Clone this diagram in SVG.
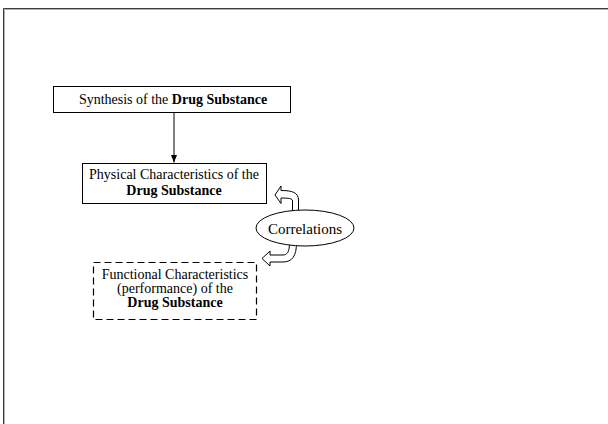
<svg xmlns="http://www.w3.org/2000/svg" width="608" height="424" viewBox="0 0 608 424">
  <style>
    .box { fill: #ffffff; stroke: #000000; stroke-width: 1; }
    .dash { stroke-dasharray: 7 4; stroke-width: 1.2; }
    .lbl { font-family: "Liberation Serif", "Times New Roman", serif; font-size: 14px; fill: #000000; text-anchor: middle; }
    .b { font-weight: bold; }
    .turn { fill: #ffffff; stroke: #000000; stroke-width: 1; stroke-linejoin: miter; }
  </style>
  <defs>
    <marker id="head" viewBox="0 0 8 8" refX="8" refY="4" markerWidth="8" markerHeight="8" markerUnits="userSpaceOnUse" orient="auto">
      <path d="M0,0.8 L8,4 L0,7.2 Z" fill="#000000"/>
    </marker>
  </defs>

  <rect width="608" height="424" fill="#ffffff"/>
  <!-- slide frame -->
  <g id="frame" fill="none">
    <path d="M3.5,424 V8.5 H608" stroke="#3c3c3c" stroke-width="1"/>
    <path d="M4.5,424 V9.5 H608" stroke="#b0b0b0" stroke-width="1"/>
  </g>

  <!-- connectors -->
  <g id="connectors">
    <line x1="174" y1="112.5" x2="174" y2="162.5" stroke="#000000" stroke-width="1" marker-end="url(#head)"/>
    <!-- U-turn arrow from Correlations up to the physical characteristics -->
    <path class="turn" d="M275,195 L281,186 L281,190.5 C292,190.5 298.5,192.5 298.5,200 L298.5,213 L292.5,213 L292.5,201 C292.5,198.5 289,198 281,198 L281,203.5 Z"/>
    <!-- U-turn arrow from Correlations down to the functional characteristics -->
    <path class="turn" d="M262,258.5 L270,251 L270,255 L283,255 C287,255 289.5,252 289.5,243 L296.5,243 C296.5,256 292,262 283,262 L270,262 L270,266 Z"/>
  </g>

  <g id="synthesis">
    <rect class="box" x="53.5" y="86.5" width="237" height="26"/>
    <text class="lbl" x="173" y="103.5">Synthesis of the <tspan class="b">Drug Substance</tspan></text>
  </g>

  <g id="physical">
    <rect class="box" x="82.5" y="163.5" width="184" height="40"/>
    <text class="lbl" x="174" y="179">Physical Characteristics of the</text>
    <text class="lbl b" x="174" y="195">Drug Substance</text>
  </g>

  <g id="correlations">
    <ellipse class="box" cx="305" cy="228" rx="49" ry="18"/>
    <text class="lbl" x="305" y="233.5" style="font-size:15px">Correlations</text>
  </g>

  <g id="functional">
    <rect class="box dash" x="93.5" y="262.5" width="163" height="57"/>
    <text class="lbl" x="175" y="278.5">Functional Characteristics</text>
    <text class="lbl" x="175" y="292.5">(performance) of the</text>
    <text class="lbl b" x="175" y="306.5">Drug Substance</text>
  </g>
</svg>
